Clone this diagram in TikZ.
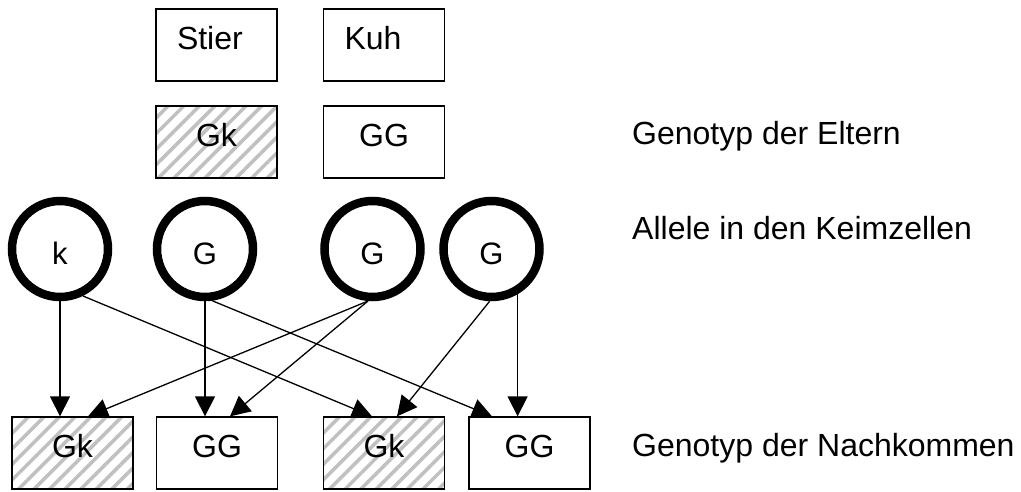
\documentclass[tikz,border=0pt]{standalone}
\usepackage{fontspec}
\setmainfont{Liberation Sans}
\usetikzlibrary{arrows.meta,patterns.meta}
\definecolor{hatch}{RGB}{192,192,192}
\newcommand{\alltext}[1]{\fontsize{31pt}{37pt}\selectfont\raisebox{-4pt}[22pt][0pt]{#1}}
\begin{document}
\begin{tikzpicture}[x=1pt,y=-1pt,
  box/.style={draw,line width=1.3pt,minimum width=121pt,minimum height=72pt,inner sep=0pt,
    font=\fontsize{32}{38}\selectfont,text height=23pt,text depth=14pt},
  hatched/.style={box,pattern={Lines[angle=45,distance=11pt,line width=3.5pt]},pattern color=hatch},
  namebox/.style={box,text width=79pt,align=left,inner xsep=21pt},
  allele/.style={circle,draw,line width=8.5pt,minimum size=96pt,inner sep=0pt},
  lbl/.style={anchor=base west,inner sep=0pt,font=\fontsize{32}{38}\selectfont},
  arr/.style={line width=1.3pt,-{Triangle[length=20pt,width=20pt]}}
]
\fill[white] (0,0) rectangle (1021,492);
\useasboundingbox (0,0) rectangle (1021,492);

\node[namebox] (stier) at (216.5,45) {Stier};
\node[namebox] (kuh) at (384,45) {Kuh};
\node[hatched] (pgk) at (216.5,142) {Gk};
\node[box] (pgg) at (384,142) {GG};

\node[allele] (a1) at (60,249) {\alltext{k}};
\node[allele] (a2) at (205,249) {\alltext{G}};
\node[allele] (a3) at (372.5,249) {\alltext{G}};
\node[allele] (a4) at (491.5,249) {\alltext{G}};

\node[hatched] (o1) at (72.5,453) {Gk};
\node[box] (o2) at (217,453) {GG};
\node[hatched] (o3) at (384,453) {Gk};
\node[box] (o4) at (529.5,453) {GG};

\draw[arr] (a1.south) -- (a1.south |- o1.north);
\draw[arr] (a1.-64) -- ([xshift=-12pt]o3.north);
\draw[arr] (a2.south) -- (a2.south |- o2.north);
\draw[arr] (a2.-82) -- ([xshift=-37.5pt]o4.north);
\draw[arr] (a3.-95) -- ([xshift=15.5pt]o1.north);
\draw[arr] (a3.-95) -- ([xshift=13pt]o2.north);
\draw[arr] (a4.-92) -- ([xshift=13pt]o3.north);
\draw[arr] (a4.-60) -- (a4.-60 |- o4.north);

\node[lbl] (l1) at (632,145) {Genotyp der Eltern};
\node[lbl] (l2) at (632,240) {Allele in den Keimzellen};
\node[lbl] (l3) at (632,456) {Genotyp der Nachkommen};
\end{tikzpicture}
\end{document}
